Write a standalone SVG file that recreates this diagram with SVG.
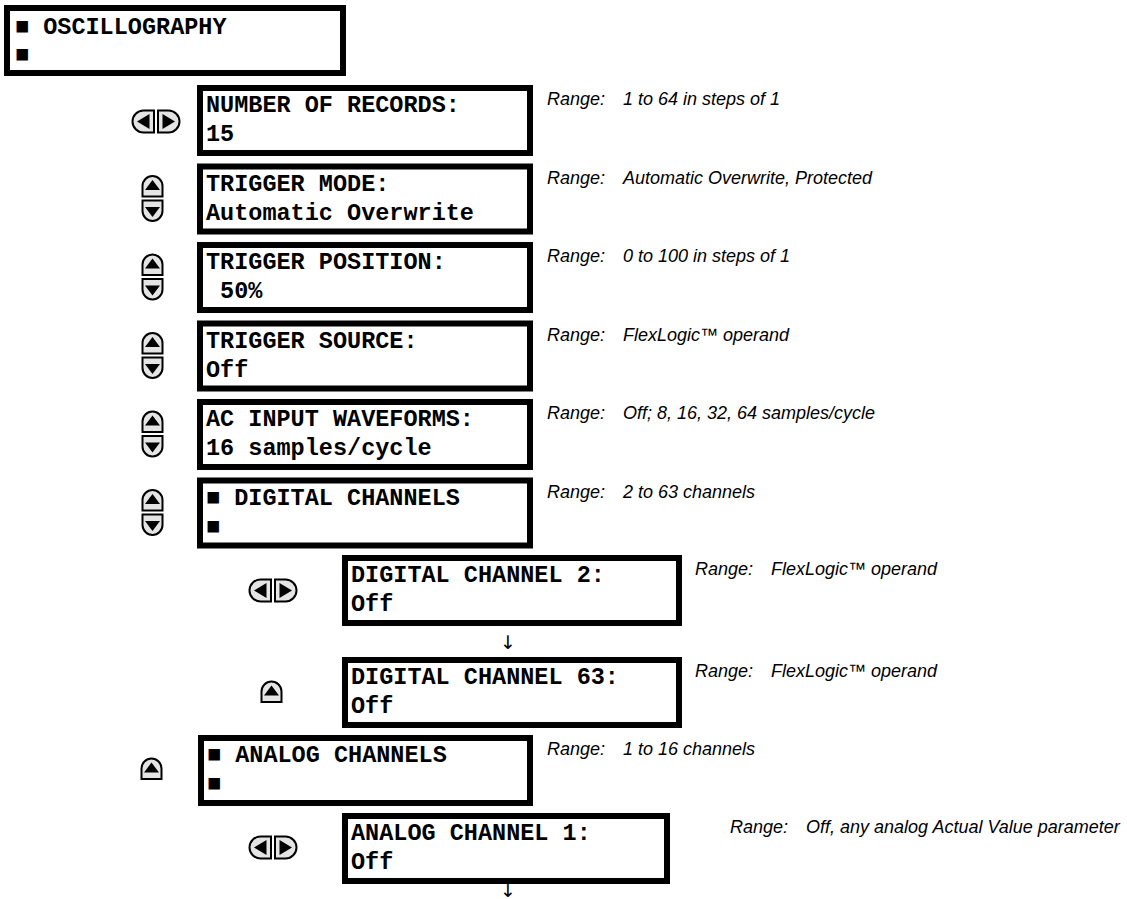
<svg xmlns="http://www.w3.org/2000/svg" xmlns:xlink="http://www.w3.org/1999/xlink" width="1127" height="899" viewBox="0 0 1127 899">
<style>
.box{fill:#fff;stroke:#000;stroke-width:6}
.mono{font-family:"Liberation Mono","Courier New",monospace;font-weight:bold;font-size:23.5px;fill:#000}
.rng{font-family:"Liberation Sans",Arial,sans-serif;font-style:italic;font-size:18px;fill:#000}
.btn{fill:#e4e4e4;stroke:#000;stroke-width:2}
.tri{fill:#000}
.arr{font-family:"DejaVu Sans","Liberation Sans",sans-serif;font-size:19px;fill:#000}
</style>
<defs>
<g id="lr">
<path class="btn" d="M23,1.5 H12.5 A11,11 0 0 0 12.5,23.5 H23 Z"/>
<path class="tri" d="M6,12.5 L18.5,5 L18.5,20 Z"/>
<path class="btn" d="M27,1.5 H37.5 A11,11 0 0 1 37.5,23.5 H27 Z"/>
<path class="tri" d="M44,12.5 L31.5,5 L31.5,20 Z"/>
</g>
<g id="up">
<path class="btn" d="M1.5,22 V11.5 A10,10 0 0 1 21.5,11.5 V22 Z"/>
<path class="tri" d="M11.5,5.5 L19,15.5 L4,15.5 Z"/>
</g>
<g id="dn">
<path class="btn" d="M1.5,1 V11.5 A10,10 0 0 0 21.5,11.5 V1 Z"/>
<path class="tri" d="M11.5,17.5 L19,7.5 L4,7.5 Z"/>
</g>
<g id="ud">
<use xlink:href="#up"/>
<use xlink:href="#dn" y="25"/>
</g>
</defs>
<rect width="1127" height="899" fill="#fff"/>

<g id="oscillography">
<rect class="box" x="7" y="8" width="336" height="65"/>
<text class="mono" x="15" y="34">■ OSCILLOGRAPHY</text>
<text class="mono" x="15" y="62">■</text>
</g>

<g id="number-of-records">
<use xlink:href="#lr" x="131" y="109"/>
<rect class="box" x="200" y="88" width="330" height="65"/>
<text class="mono" x="206" y="112">NUMBER OF RECORDS:</text>
<text class="mono" x="206" y="141">15</text>
<text class="rng" x="547" y="105">Range:<tspan x="623">1 to 64 in steps of 1</tspan></text>
</g>

<g id="trigger-mode">
<use xlink:href="#ud" x="141" y="174.5"/>
<rect class="box" x="200" y="166.5" width="330" height="65"/>
<text class="mono" x="206" y="190.5">TRIGGER MODE:</text>
<text class="mono" x="206" y="219.5">Automatic Overwrite</text>
<text class="rng" x="547" y="183.5">Range:<tspan x="623">Automatic Overwrite, Protected</tspan></text>
</g>

<g id="trigger-position">
<use xlink:href="#ud" x="141" y="253"/>
<rect class="box" x="200" y="245" width="330" height="65"/>
<text class="mono" x="206" y="269">TRIGGER POSITION:</text>
<text class="mono" x="220.1" y="298">50%</text>
<text class="rng" x="547" y="262">Range:<tspan x="623">0 to 100 in steps of 1</tspan></text>
</g>

<g id="trigger-source">
<use xlink:href="#ud" x="141" y="331.5"/>
<rect class="box" x="200" y="323.5" width="330" height="65"/>
<text class="mono" x="206" y="347.5">TRIGGER SOURCE:</text>
<text class="mono" x="206" y="376.5">Off</text>
<text class="rng" x="547" y="340.5">Range:<tspan x="623">FlexLogic™ operand</tspan></text>
</g>

<g id="ac-input-waveforms">
<use xlink:href="#ud" x="141" y="410"/>
<rect class="box" x="200" y="402" width="330" height="65"/>
<text class="mono" x="206" y="426">AC INPUT WAVEFORMS:</text>
<text class="mono" x="206" y="455">16 samples/cycle</text>
<text class="rng" x="547" y="419">Range:<tspan x="623">Off; 8, 16, 32, 64 samples/cycle</tspan></text>
</g>

<g id="digital-channels">
<use xlink:href="#ud" x="141" y="488.5"/>
<rect class="box" x="200" y="480.5" width="330" height="65"/>
<text class="mono" x="206" y="504.5">■ DIGITAL CHANNELS</text>
<text class="mono" x="206" y="533.5">■</text>
<text class="rng" x="547" y="497.5">Range:<tspan x="623">2 to 63 channels</tspan></text>
</g>

<g id="digital-channel-2">
<use xlink:href="#lr" x="248" y="578"/>
<rect class="box" x="345" y="558" width="334" height="65"/>
<text class="mono" x="351" y="582">DIGITAL CHANNEL 2:</text>
<text class="mono" x="351" y="611">Off</text>
<text class="rng" x="695" y="575">Range:<tspan x="771">FlexLogic™ operand</tspan></text>
</g>

<g id="digital-channel-63">
<use xlink:href="#up" x="260" y="680"/>
<rect class="box" x="345" y="660" width="334" height="65"/>
<text class="mono" x="351" y="684">DIGITAL CHANNEL 63:</text>
<text class="mono" x="351" y="713">Off</text>
<text class="rng" x="695" y="677">Range:<tspan x="771">FlexLogic™ operand</tspan></text>
</g>

<g id="analog-channels">
<use xlink:href="#up" x="140" y="757"/>
<rect class="box" x="201" y="738" width="329" height="65"/>
<text class="mono" x="207" y="762">■ ANALOG CHANNELS</text>
<text class="mono" x="207" y="791">■</text>
<text class="rng" x="547" y="755">Range:<tspan x="623">1 to 16 channels</tspan></text>
</g>

<g id="analog-channel-1">
<use xlink:href="#lr" x="248" y="835"/>
<rect class="box" x="345" y="816" width="322" height="65"/>
<text class="mono" x="351" y="840">ANALOG CHANNEL 1:</text>
<text class="mono" x="351" y="869">Off</text>
<text class="rng" x="730" y="833">Range:<tspan x="806">Off, any analog Actual Value parameter</tspan></text>
</g>

<g id="connectors">
<text class="arr" x="508" y="649" text-anchor="middle">↓</text>
<text class="arr" x="508" y="897" text-anchor="middle">↓</text>
</g>
</svg>
